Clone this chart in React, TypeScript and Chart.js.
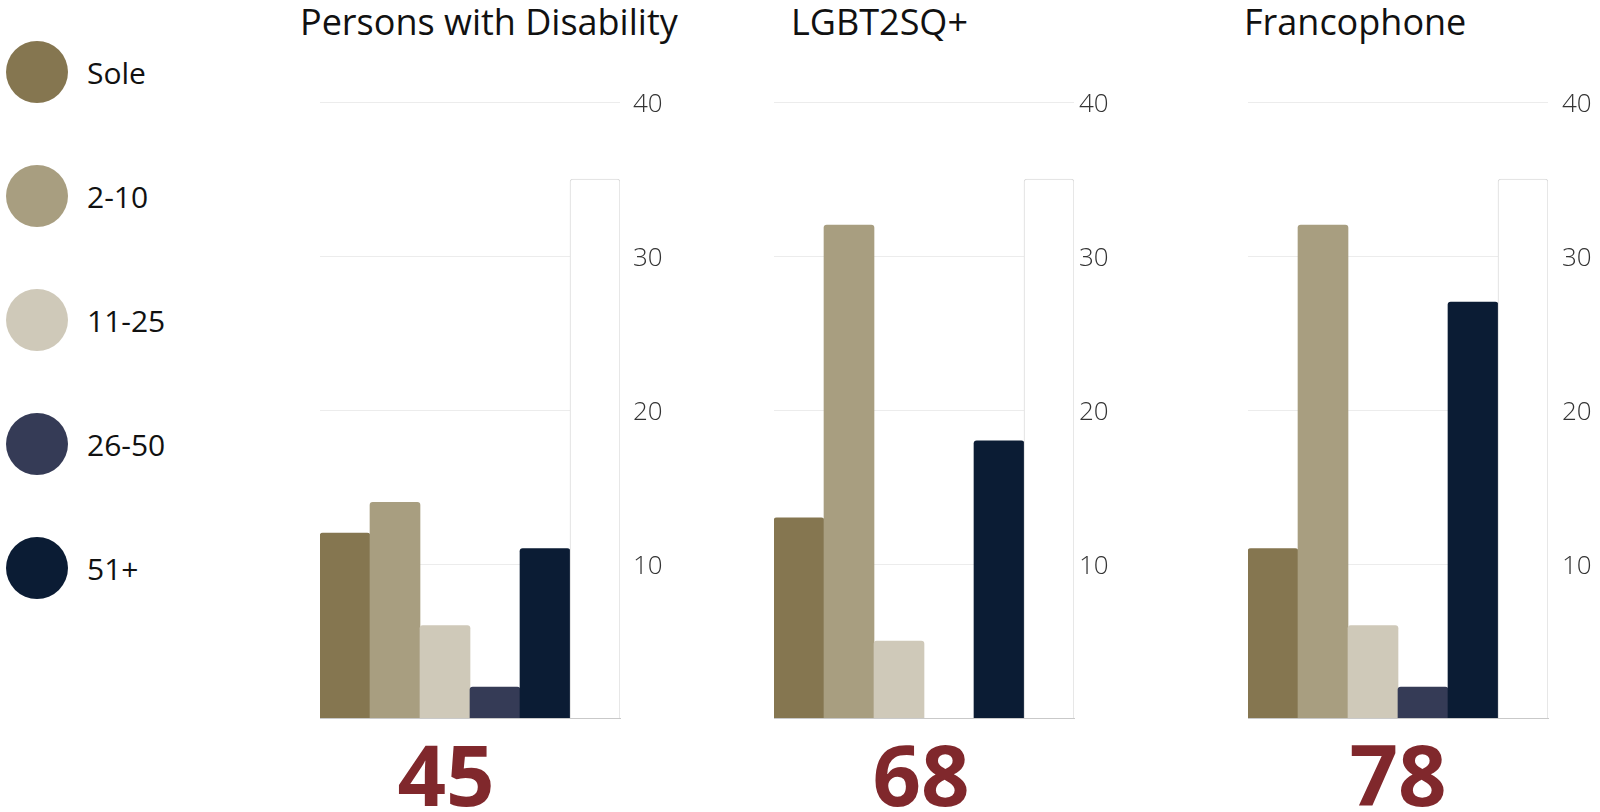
import React, { useEffect, useRef } from 'react';
import { Chart, registerables } from 'chart.js';

Chart.register(...registerables);

// Business-size bands and the bar colour for each
const sizeBands = ['Sole', '2-10', '11-25', '26-50', '51+'];
const bandColors = ['#857650', '#a89e80', '#cfc9b9', '#353b56', '#0b1c34'];

// Group titles and counts per size band
const groupTitles = ['Persons with Disability', 'LGBT2SQ+', 'Francophone'];
const disabilityCounts = [12, 14, 6, 2, 11];
const lgbtCounts = [13, 32, 5, 0, 18];
const francophoneCounts = [11, 32, 6, 2, 27];

// Outlined bar that closes each panel on the right
const outlineBarValue = 35;

// Value axis
const yMin = 0;
const yMax = 40;
const yTicks = [10, 20, 30, 40];

const groupCounts = [disabilityCounts, lgbtCounts, francophoneCounts];

// Placement of each panel on the page
const panelLayout = [
  { chartLeft: 320, tickPad: 13, titleLeft: 300, totalCenter: 446 },
  { chartLeft: 774, tickPad: 5, titleLeft: 791, totalCenter: 921 },
  { chartLeft: 1248, tickPad: 14, titleLeft: 1244, totalCenter: 1398 },
];

const FONT = "'Open Sans', 'Noto Sans', sans-serif";
const PLOT_W = 300;
const AXIS_W = 70;
const CANVAS_TOP = 82;
const CANVAS_H = 638;

function BarPanel({ counts, left, tickPad }: { counts: number[]; left: number; tickPad: number }) {
  const ref = useRef<HTMLCanvasElement | null>(null);

  useEffect(() => {
    if (!ref.current) return;
    const chart = new Chart(ref.current, {
      type: 'bar',
      data: {
        labels: [...sizeBands, ''],
        datasets: [
          {
            // empty bands are left out so no zero-height sliver is painted
            data: [...counts.map((v) => (v === 0 ? null : v)), outlineBarValue],
            backgroundColor: [...bandColors, '#ffffff'],
            borderColor: [...bandColors, '#dcdcdc'],
            borderWidth: [0, 0, 0, 0, 0, 1],
            borderRadius: 3,
            borderSkipped: 'bottom',
            categoryPercentage: 1,
            barPercentage: 1,
          },
        ],
      },
      options: {
        responsive: false,
        animation: false,
        layout: { autoPadding: false, padding: { top: 20, left: 0, right: 0, bottom: 0 } },
        plugins: { legend: { display: false }, tooltip: { enabled: false }, title: { display: false } },
        scales: {
          x: {
            grid: { display: false, drawTicks: false },
            ticks: { display: false },
            border: { display: true, color: '#c9c9c9', width: 1 },
            afterFit: (s: any) => {
              s.height = 2;
              s.paddingLeft = 0;
              s.paddingRight = 0;
            },
          },
          y: {
            position: 'right',
            min: yMin,
            max: yMax,
            grid: { color: '#ececec', drawTicks: false, lineWidth: 1 },
            border: { display: false },
            ticks: {
              padding: tickPad,
              labelOffset: 3,
              color: '#333333',
              font: { family: FONT, size: 26, weight: '300' as any },
            },
            afterBuildTicks: (s: any) => {
              s.ticks = yTicks.map((v) => ({ value: v }));
            },
            afterFit: (s: any) => {
              s.width = AXIS_W;
              s.paddingTop = 0;
              s.paddingBottom = 0;
            },
          },
        },
      },
    });
    return () => chart.destroy();
  }, [counts, tickPad]);

  return (
    <canvas
      ref={ref}
      width={PLOT_W + AXIS_W}
      height={CANVAS_H}
      style={{ position: 'absolute', left, top: CANVAS_TOP, width: PLOT_W + AXIS_W, height: CANVAS_H }}
    />
  );
}

export default function App() {
  const legendRowCenters = [72, 196, 320, 444, 568];
  return (
    <div
      style={{
        position: 'fixed',
        left: 0,
        top: 0,
        width: 1600,
        height: 812,
        background: '#ffffff',
        overflow: 'hidden',
        fontFamily: FONT,
      }}
    >
      {/* Legend */}
      {sizeBands.map((band, i) => (
        <React.Fragment key={band}>
          <div
            style={{
              position: 'absolute',
              left: 6,
              top: legendRowCenters[i] - 31,
              width: 62,
              height: 62,
              borderRadius: '50%',
              background: bandColors[i],
            }}
          />
          <div
            style={{
              position: 'absolute',
              left: 87,
              top: legendRowCenters[i] + 12 - 26,
              fontSize: 30,
              lineHeight: '30px',
              color: '#111111',
              whiteSpace: 'nowrap',
            }}
          >
            {band}
          </div>
        </React.Fragment>
      ))}

      {groupTitles.map((title, i) => {
        const lay = panelLayout[i];
        const total = groupCounts[i].reduce((a, b) => a + b, 0);
        return (
          <React.Fragment key={title}>
            <div
              style={{
                position: 'absolute',
                left: lay.titleLeft,
                top: 4,
                fontSize: 36,
                lineHeight: '36px',
                color: '#111111',
                whiteSpace: 'nowrap',
              }}
            >
              {title}
            </div>
            <BarPanel counts={groupCounts[i]} left={lay.chartLeft} tickPad={lay.tickPad} />
            <div
              style={{
                position: 'absolute',
                left: lay.totalCenter - 100,
                width: 200,
                top: 731,
                textAlign: 'center',
                fontSize: 85,
                lineHeight: '85px',
                fontWeight: 700,
                color: '#80282c',
              }}
            >
              {total}
            </div>
          </React.Fragment>
        );
      })}
    </div>
  );
}
